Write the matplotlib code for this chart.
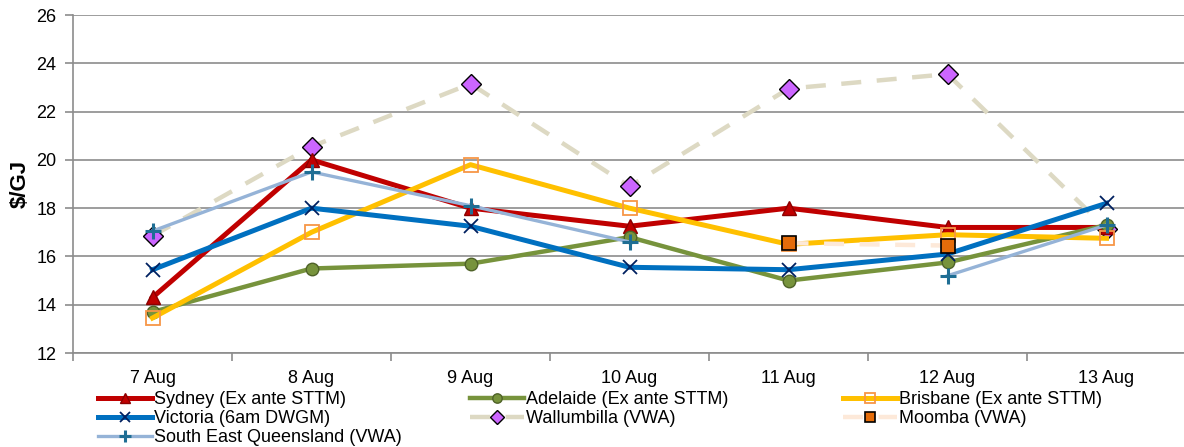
import numpy as np
import matplotlib
matplotlib.use('Agg')
import matplotlib.pyplot as plt

plt.rcParams['font.family'] = ['Liberation Sans', 'DejaVu Sans']

days = ['7 Aug', '8 Aug', '9 Aug', '10 Aug', '11 Aug', '12 Aug', '13 Aug']
sydney = [14.3, 20.0, 18.0, 17.25, 18.0, 17.2, 17.2]
adelaide = [13.7, 15.5, 15.7, 16.8, 15.0, 15.75, 17.3]
brisbane = [13.45, 17.0, 19.8, 18.0, 16.5, 16.9, 16.75]
victoria = [15.45, 18.0, 17.25, 15.55, 15.45, 16.1, 18.2]
wallumbilla = [16.85, 20.55, 23.15, 18.9, 22.95, 23.55, 17.15]
moomba = [np.nan, np.nan, np.nan, np.nan, 16.55, 16.45, np.nan]
seq = [17.05, 19.5, 18.1, 16.6, np.nan, 15.2, 17.3]

x = np.arange(len(days))

fig = plt.figure(figsize=(11.84, 4.47), dpi=100)
ax = fig.add_axes([73/1184, 1-353/447, 1113/1184, 338/447])

h_syd, = ax.plot(x, sydney, color='#c00000', lw=3.6, marker='^', ms=10,
                 mfc='#c00000', mec='#8b0000', label='Sydney (Ex ante STTM)', zorder=4)
h_ade, = ax.plot(x, adelaide, color='#77933c', lw=3.2, marker='o', ms=9,
                 mfc='#77933c', mec='#4f6228', label='Adelaide (Ex ante STTM)', zorder=4)
h_bri, = ax.plot(x, brisbane, color='#ffc000', lw=3.6, marker='s', ms=10,
                 mfc='none', mec='#f79646', mew=1.3, label='Brisbane (Ex ante STTM)', zorder=4)
h_vic, = ax.plot(x, victoria, color='#0070c0', lw=3.6, marker='x', ms=10,
                 mec='#002060', mew=1.3, label='Victoria (6am DWGM)', zorder=4)
h_wal, = ax.plot(x, wallumbilla, color='#ddd9c3', lw=3.2, ls=(0, (4.5, 3.5)),
                 marker='D', ms=10, mfc='#cc66ff', mec='black', mew=1.0,
                 label='Wallumbilla (VWA)', zorder=3)
h_moo, = ax.plot(x, moomba, color='#fde9d9', lw=3.2, ls=(0, (4.5, 3.5)),
                 marker='s', ms=10, mfc='#e46c0a', mec='black', mew=1.2,
                 label='Moomba (VWA)', zorder=5)
h_seq, = ax.plot(x, seq, color='#95b3d7', lw=2.4, marker='+', ms=12,
                 mec='#1f6e94', mew=2.2, label='South East Queensland (VWA)', zorder=4)

ax.set_xlim(-0.5, 6.5)
ax.set_ylim(12, 26)
ax.set_yticks(np.arange(12, 27, 2))
ax.yaxis.grid(True, color='#8c8c8c', lw=1.2)
ax.set_axisbelow(True)
ax.set_xticks(x)
ax.set_xticklabels(days)
ax.set_xticks(np.arange(-0.5, 7, 1), minor=True)
ax.tick_params(axis='x', which='major', length=0, pad=12, labelsize=13)
ax.tick_params(axis='x', which='minor', length=6, color='#8c8c8c', width=1.2)
ax.tick_params(axis='y', length=6, color='#8c8c8c', width=1.2, labelsize=13, pad=6)
for s in ['top', 'right']:
    ax.spines[s].set_visible(False)
for s in ['left', 'bottom']:
    ax.spines[s].set_color('#8c8c8c')
    ax.spines[s].set_linewidth(1.2)
ax.set_ylabel('$/GJ', fontsize=16, fontweight='bold', labelpad=4)

legend_cols = [
    ([h_syd, h_vic, h_seq], 98),
    ([h_ade, h_wal], 470),
    ([h_bri, h_moo], 843),
]
for handles, xpos in legend_cols:
    fig.legend(handles=handles, loc='upper left',
               bbox_to_anchor=(xpos/1184, 1-391/447), frameon=False,
               fontsize=13, handlelength=3.0, handletextpad=0.1,
               labelspacing=0.12, borderpad=0, borderaxespad=0, numpoints=1,
               markerscale=0.75)

fig.savefig('out.png', dpi=100)
